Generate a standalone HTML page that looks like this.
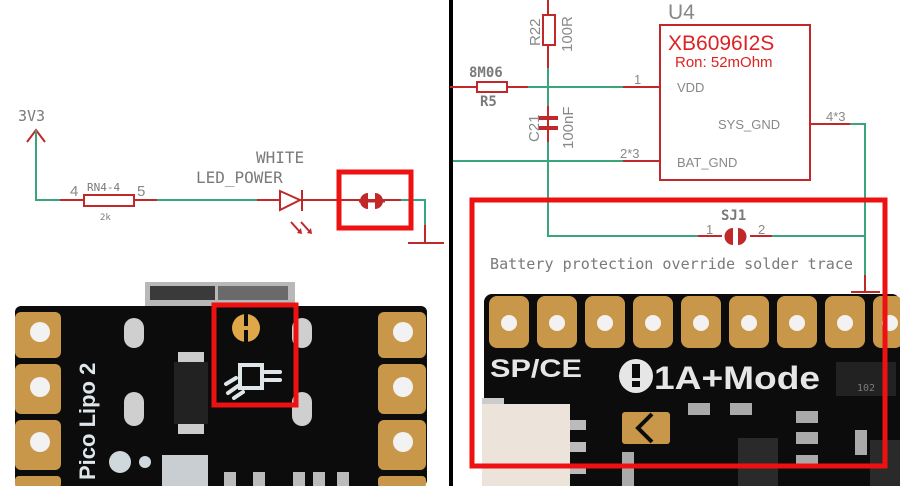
<!DOCTYPE html>
<html><head><meta charset="utf-8"><style>
html,body{margin:0;padding:0;background:#fff;width:900px;height:486px;overflow:hidden}
svg{display:block}
.m{font-family:"DejaVu Sans Mono","Liberation Mono",monospace;fill:#7a7a7a}
.s{font-family:"Liberation Sans",sans-serif}
</style></head><body>
<svg width="900" height="486" viewBox="0 0 900 486" xmlns="http://www.w3.org/2000/svg">
<rect width="900" height="486" fill="#fff"/>

<!-- LEFT PHOTO -->
<rect x="145" y="282" width="150" height="30" fill="#b8b8b8"/>
<rect x="150" y="286" width="65" height="14" fill="#3a3a3a"/>
<rect x="218" y="286" width="70" height="14" fill="#6a6a6a"/>
<rect x="15" y="306" width="412" height="180" rx="6" fill="#0c0c0c"/>
<g fill="#c9974a">
<rect x="15" y="312" width="46" height="46" rx="6"/><rect x="15" y="364" width="46" height="50" rx="6"/><rect x="15" y="420" width="46" height="50" rx="6"/><rect x="15" y="476" width="46" height="12" rx="4"/>
<rect x="378" y="312" width="48" height="46" rx="6"/><rect x="378" y="364" width="48" height="50" rx="6"/><rect x="378" y="420" width="48" height="50" rx="6"/><rect x="378" y="476" width="48" height="12" rx="4"/>
</g>
<g fill="#f2f2f2">
<circle cx="40" cy="332" r="10"/><circle cx="40" cy="387" r="10"/><circle cx="40" cy="442" r="10"/>
<circle cx="403" cy="332" r="10"/><circle cx="403" cy="387" r="10"/><circle cx="403" cy="442" r="10"/>
</g>
<g fill="#cfcfcf">
<rect x="124" y="318" width="20" height="30" rx="10"/><rect x="124" y="392" width="20" height="34" rx="10"/>
<rect x="292" y="318" width="20" height="30" rx="10"/><rect x="292" y="392" width="20" height="34" rx="10"/>
</g>
<rect x="178" y="352" width="26" height="12" fill="#ccc"/>
<rect x="178" y="422" width="26" height="12" fill="#ccc"/>
<rect x="174" y="362" width="34" height="62" fill="#222"/>
<text x="95" y="480" transform="rotate(-90 95 480)" class="s" font-weight="bold" font-size="22" fill="#dfe6ea">Pico Lipo 2</text>
<circle cx="120" cy="462" r="11" fill="#cfd8dc"/><circle cx="145" cy="462" r="6" fill="#cfd8dc"/>
<rect x="162" y="455" width="46" height="31" fill="#c9ced2"/>
<g fill="#bbb"><rect x="224" y="472" width="12" height="14"/><rect x="253" y="472" width="12" height="14"/><rect x="293" y="472" width="12" height="14"/><rect x="313" y="472" width="12" height="14"/><rect x="337" y="472" width="12" height="14"/></g>
<circle cx="246" cy="328" r="14" fill="#e0a64a"/>
<rect x="244" y="312" width="4" height="32" fill="#0c0c0c"/>
<rect x="238" y="326" width="16" height="4" fill="#e0a64a"/>
<g stroke="#dfe6ea" stroke-width="4" fill="none" stroke-linecap="round">
<path d="M240 365 L262 365 L262 388 L240 388 Z"/><path d="M265 372 L280 372 M265 380 L280 380"/>
<path d="M226 384 L236 378 M228 393 L238 386 M234 398 L243 392"/>
</g>
<rect x="214" y="305" width="82" height="100" fill="none" stroke="#ee1111" stroke-width="5"/>

<!-- LEFT SCHEMATIC -->
<text x="18" y="121" class="m" font-size="15">3V3</text>
<path d="M27 142 L36 130 L45 142" stroke="#c0282a" stroke-width="2" fill="none"/>
<path d="M36 130 L36 200 L60 200" stroke="#3aa57a" stroke-width="2" fill="none"/>
<line x1="60" y1="200" x2="83" y2="200" stroke="#c0282a" stroke-width="2"/>
<rect x="84" y="195" width="50" height="11" fill="none" stroke="#c0282a" stroke-width="2"/>
<line x1="134" y1="200" x2="157" y2="200" stroke="#c0282a" stroke-width="2"/>
<line x1="157" y1="200" x2="257" y2="200" stroke="#3aa57a" stroke-width="2"/>
<line x1="257" y1="200" x2="330" y2="200" stroke="#c0282a" stroke-width="2"/>
<path d="M280 191 L280 210 L300 200 Z" fill="#fff" stroke="#c0282a" stroke-width="2"/>
<line x1="302" y1="190" x2="302" y2="211" stroke="#c0282a" stroke-width="2"/>
<g stroke="#c0282a" stroke-width="2"><line x1="291" y1="222" x2="300" y2="232"/><line x1="301" y1="222" x2="310" y2="232"/></g>
<g fill="#c0282a"><path d="M297 233 L302 234 L301 228 Z"/><path d="M307 233 L312 234 L311 228 Z"/></g>
<text x="70" y="196" class="s" font-size="15" fill="#888">4</text>
<text x="87" y="191" class="m" font-size="11">RN4-4</text>
<text x="137" y="196" class="s" font-size="15" fill="#888">5</text>
<text x="100" y="220" class="m" font-size="9" fill="#555">2k</text>
<text x="256" y="163" class="m" font-size="16">WHITE</text>
<text x="196" y="183" class="m" font-size="16">LED_POWER</text>
<line x1="330" y1="200" x2="401" y2="200" stroke="#c0282a" stroke-width="2"/>
<path d="M401 200 L425 200 L425 225" stroke="#3aa57a" stroke-width="2" fill="none"/>
<line x1="425" y1="225" x2="425" y2="243" stroke="#c0282a" stroke-width="2"/>
<line x1="408" y1="243" x2="444" y2="243" stroke="#c0282a" stroke-width="2"/>
<path d="M368 193 A8 8 0 0 0 368 209 Z" fill="#c0282a"/>
<path d="M375 193 A8 8 0 0 1 375 209 Z" fill="#c0282a"/>
<line x1="359" y1="201" x2="385" y2="201" stroke="#c0282a" stroke-width="3"/>
<rect x="339" y="172" width="72" height="56" fill="none" stroke="#ee1111" stroke-width="5"/>

<!-- DIVIDER -->
<rect x="449" y="0" width="4" height="486" fill="#000"/>

<!-- RIGHT PHOTO -->
<rect x="484" y="294" width="416" height="192" rx="8" fill="#0c0c0c"/>
<g fill="#c9974a">
<rect x="489" y="296" width="40" height="52" rx="8"/><rect x="537" y="296" width="40" height="52" rx="8"/><rect x="585" y="296" width="40" height="52" rx="8"/><rect x="633" y="296" width="40" height="52" rx="8"/><rect x="681" y="296" width="40" height="52" rx="8"/><rect x="729" y="296" width="40" height="52" rx="8"/><rect x="777" y="296" width="40" height="52" rx="8"/><rect x="825" y="296" width="40" height="52" rx="8"/><rect x="873" y="296" width="30" height="52" rx="8"/>
</g>
<g fill="#f2f2f2">
<circle cx="509" cy="323" r="8"/><circle cx="557" cy="323" r="8"/><circle cx="605" cy="323" r="8"/><circle cx="653" cy="323" r="8"/><circle cx="701" cy="323" r="8"/><circle cx="749" cy="323" r="8"/><circle cx="797" cy="323" r="8"/><circle cx="845" cy="323" r="8"/><circle cx="890" cy="323" r="8"/>
</g>
<text x="490" y="377" class="s" font-weight="bold" font-size="25" fill="#e6e6e6" textLength="92" lengthAdjust="spacingAndGlyphs">SP/CE</text>
<circle cx="636" cy="376" r="17" fill="#e6e6e6"/>
<rect x="632" y="364" width="8" height="14" fill="#0c0c0c"/><rect x="632" y="381" width="8" height="6" fill="#0c0c0c"/>
<text x="654" y="389" class="s" font-weight="bold" font-size="32" fill="#e6e6e6" textLength="166" lengthAdjust="spacingAndGlyphs">1A+Mode</text>
<rect x="482" y="398" width="22" height="12" fill="#ccc"/>
<rect x="482" y="404" width="88" height="82" fill="#ece4da"/>
<g fill="#bbb"><rect x="570" y="420" width="16" height="10"/><rect x="570" y="442" width="16" height="10"/><rect x="570" y="464" width="16" height="10"/></g>
<rect x="622" y="412" width="48" height="32" rx="3" fill="#c9974a"/>
<path d="M652 414 L638 428 L652 442" stroke="#0c0c0c" stroke-width="4" fill="none"/>
<g fill="#aaa"><rect x="688" y="403" width="22" height="12"/><rect x="730" y="403" width="22" height="12"/><rect x="796" y="411" width="22" height="12"/><rect x="796" y="432" width="22" height="12"/><rect x="796" y="455" width="22" height="12"/><rect x="855" y="430" width="12" height="25"/><rect x="622" y="452" width="12" height="34"/></g>
<rect x="738" y="438" width="40" height="48" fill="#2a2a2a"/>
<rect x="836" y="362" width="60" height="34" fill="#222"/>
<text x="857" y="391" class="m" font-size="10" fill="#ccc">102</text>
<rect x="870" y="440" width="30" height="46" fill="#2a2a2a"/>

<!-- RIGHT SCHEMATIC -->
<line x1="548" y1="0" x2="548" y2="68" stroke="#c0282a" stroke-width="2"/>
<rect x="543" y="15" width="12" height="30" fill="#fff" stroke="#c0282a" stroke-width="2"/>
<text transform="translate(540 46) rotate(-90)" class="s" font-size="15" fill="#888">R22</text>
<text transform="translate(572 52) rotate(-90)" class="s" font-size="15" fill="#888">100R</text>
<line x1="450" y1="87" x2="528" y2="87" stroke="#c0282a" stroke-width="2"/>
<rect x="477" y="82" width="30" height="10" fill="#fff" stroke="#c0282a" stroke-width="2"/>
<text x="469" y="77" class="m" font-size="14" font-weight="bold">8M06</text>
<text x="480" y="106" class="m" font-size="14" font-weight="bold">R5</text>
<line x1="528" y1="87" x2="623" y2="87" stroke="#3aa57a" stroke-width="2"/>
<line x1="623" y1="87" x2="660" y2="87" stroke="#c0282a" stroke-width="2"/>
<text x="634" y="84" class="s" font-size="13" fill="#888">1</text>
<line x1="453" y1="161" x2="623" y2="161" stroke="#3aa57a" stroke-width="2"/>
<line x1="623" y1="161" x2="660" y2="161" stroke="#c0282a" stroke-width="2"/>
<text x="620" y="158" class="s" font-size="13" fill="#888">2*3</text>
<path d="M548 68 L548 236 L698 236" stroke="#3aa57a" stroke-width="2" fill="none"/>
<line x1="548" y1="106" x2="548" y2="142" stroke="#c0282a" stroke-width="2"/>
<rect x="538" y="116" width="20" height="4" fill="#c0282a"/><rect x="538" y="126" width="20" height="4" fill="#c0282a"/>
<text transform="translate(539 142) rotate(-90)" class="s" font-size="15" fill="#888">C21</text>
<text transform="translate(573 149) rotate(-90)" class="s" font-size="15" fill="#888">100nF</text>
<rect x="660" y="25" width="150" height="155" fill="none" stroke="#c0282a" stroke-width="2"/>
<text x="668" y="19" class="s" font-size="21" fill="#888">U4</text>
<text x="668" y="50" class="s" font-size="21" fill="#dd2222">XB6096I2S</text>
<text x="675" y="67" class="s" font-size="15" fill="#dd2222">Ron: 52mOhm</text>
<text x="677" y="92" class="s" font-size="13" fill="#888">VDD</text>
<text x="718" y="129" class="s" font-size="13" fill="#888">SYS_GND</text>
<text x="677" y="167" class="s" font-size="13" fill="#888">BAT_GND</text>
<line x1="810" y1="124" x2="850" y2="124" stroke="#c0282a" stroke-width="2"/>
<text x="826" y="121" class="s" font-size="13" fill="#888">4*3</text>
<path d="M850 124 L865 124 L865 275" stroke="#3aa57a" stroke-width="2" fill="none"/>
<line x1="865" y1="275" x2="865" y2="292" stroke="#c0282a" stroke-width="2"/>
<line x1="851" y1="292" x2="880" y2="292" stroke="#c0282a" stroke-width="2"/>
<line x1="698" y1="236" x2="722" y2="236" stroke="#c0282a" stroke-width="2"/>
<path d="M733 228 A8.5 8.5 0 0 0 733 245 Z" fill="#c0282a"/>
<path d="M738 228 A8.5 8.5 0 0 1 738 245 Z" fill="#c0282a"/>
<line x1="750" y1="236" x2="772" y2="236" stroke="#c0282a" stroke-width="2"/>
<line x1="772" y1="236" x2="865" y2="236" stroke="#3aa57a" stroke-width="2"/>
<text x="721" y="220" class="m" font-size="14" font-weight="bold">SJ1</text>
<text x="706" y="234" class="s" font-size="13" fill="#888">1</text>
<text x="758" y="234" class="s" font-size="13" fill="#888">2</text>
<text x="490" y="269" class="m" font-size="15" textLength="363" lengthAdjust="spacingAndGlyphs">Battery protection override solder trace</text>
<rect x="472" y="200" width="413" height="266" fill="none" stroke="#ee1111" stroke-width="5"/>
</svg>
</body></html>
